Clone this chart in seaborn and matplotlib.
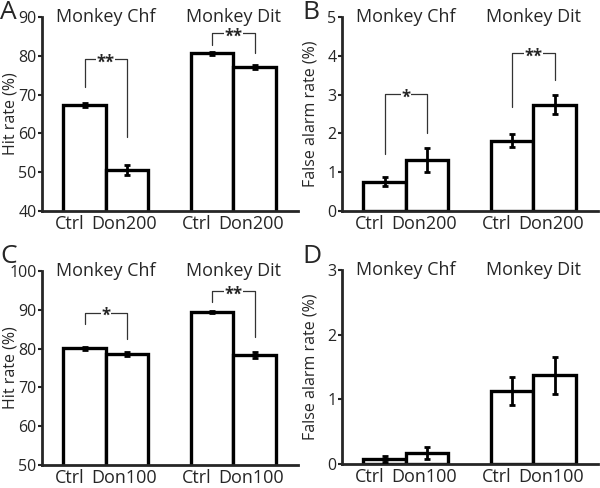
import pandas as pd
import matplotlib
matplotlib.use("Agg")
import matplotlib.pyplot as plt
import seaborn as sns

# bar layout: Chf Ctrl, Chf Drug, Dit Ctrl, Dit Drug
positions = [0, 1, 3, 4]
monkeys = ["Monkey Chf", "Monkey Dit"]
labels_200 = ["Ctrl", "Don200", "Ctrl", "Don200"]
labels_100 = ["Ctrl", "Don100", "Ctrl", "Don100"]

hit_200_mean = [67.4, 50.6, 80.6, 77.2]
hit_200_err = [0.5, 1.3, 0.4, 0.5]
fa_200_mean = [0.76, 1.31, 1.81, 2.74]
fa_200_err = [0.11, 0.31, 0.17, 0.24]
hit_100_mean = [80.1, 78.6, 89.5, 78.3]
hit_100_err = [0.4, 0.6, 0.3, 0.7]
fa_100_mean = [0.08, 0.17, 1.13, 1.37]
fa_100_err = [0.05, 0.09, 0.21, 0.28]

# significance brackets: (left leg bottom, top, right leg bottom, stars)
sig_A = [(72.0, 79.2, 59.0, "**"), (82.9, 85.9, 80.7, "**")]
sig_B = [(1.48, 3.02, 2.0, "*"), (2.69, 4.07, 3.38, "**")]
sig_C = [(86.3, 89.3, 82.4, "*"), (91.9, 94.9, 83.0, "**")]
sig_D = []

sns.set_theme(style="ticks")
plt.rcParams['font.family'] = ['Open Sans', 'DejaVu Sans']
FS = 13

fig = plt.figure(figsize=(6, 4.88), dpi=100)


def panel(rect, means, errs, labels, ylim, yticks, ylabel, letter, letter_xy, sigs):
    ax = fig.add_axes(rect)
    df = pd.DataFrame({"pos": positions, "val": means})
    sns.barplot(data=df, x="pos", y="val", native_scale=True, width=1.0,
                color="white", edgecolor="black", linewidth=2.4, ax=ax)
    ax.errorbar(positions, means, yerr=errs, fmt="none", ecolor="black",
                elinewidth=2, capsize=2.5, capthick=2, zorder=5)
    ax.set_xlim(-1, 5.02)
    ax.set_ylim(*ylim)
    ax.set_yticks(yticks)
    # labels sit a little left of the bar centres, as in the original
    label_pos = [p - 0.36 if i % 2 == 0 else p - 0.08 for i, p in enumerate(positions)]
    ax.set_xticks(label_pos)
    ax.set_xticklabels(labels, fontsize=FS)
    ax.tick_params(axis="x", length=0, pad=3)
    ax.tick_params(axis="y", length=3, width=1.5, pad=1, labelsize=11.5)
    for s in ["top", "right"]:
        ax.spines[s].set_visible(False)
    for s in ["left", "bottom"]:
        ax.spines[s].set_linewidth(2.0)
    ax.set_xlabel("")
    ax.set_ylabel(ylabel, fontsize=11.5)
    ax.yaxis.set_label_coords(-0.09, 0.5)
    for name, cx in zip(monkeys, [0.5, 3.5]):
        ax.text(cx, ylim[1], name, ha="center", va="center", fontsize=FS,
                clip_on=False)
    for (lb, top, rb, stars), x0 in zip(sigs, [0, 3]):
        ax.plot([x0, x0, x0 + 1, x0 + 1], [lb, top, top, rb],
                color="#333333", lw=0.9, zorder=6)
        ax.annotate(stars, (x0 + 0.5, top), xytext=(0, -2.5), textcoords="offset points",
                    ha="center", va="center", fontsize=12, fontweight="bold", zorder=7,
                    bbox=dict(facecolor="white", edgecolor="none", pad=0.3))
    fig.text(letter_xy[0], letter_xy[1], letter, fontsize=19, ha="left", va="top")
    return ax


w = 256 / 600
h = 194 / 488
panel([42 / 600, 1 - 211 / 488, w, h], hit_200_mean, hit_200_err, labels_200,
      (40, 90), range(40, 91, 10), "Hit rate (%)", "A", (0.0, 1.0), sig_A)
panel([342 / 600, 1 - 211 / 488, w, h], fa_200_mean, fa_200_err, labels_200,
      (0, 5), range(0, 6), "False alarm rate (%)", "B", (302 / 600, 1.0), sig_B)
panel([42 / 600, 1 - 465 / 488, w, h], hit_100_mean, hit_100_err, labels_100,
      (50, 100), range(50, 101, 10), "Hit rate (%)", "C", (0.0, 1 - 244 / 488), sig_C)
panel([342 / 600, 1 - 464 / 488, w, h], fa_100_mean, fa_100_err, labels_100,
      (0, 3), range(0, 4), "False alarm rate (%)", "D", (302 / 600, 1 - 244 / 488), sig_D)

fig.savefig("out.png", dpi=100, facecolor="white")
